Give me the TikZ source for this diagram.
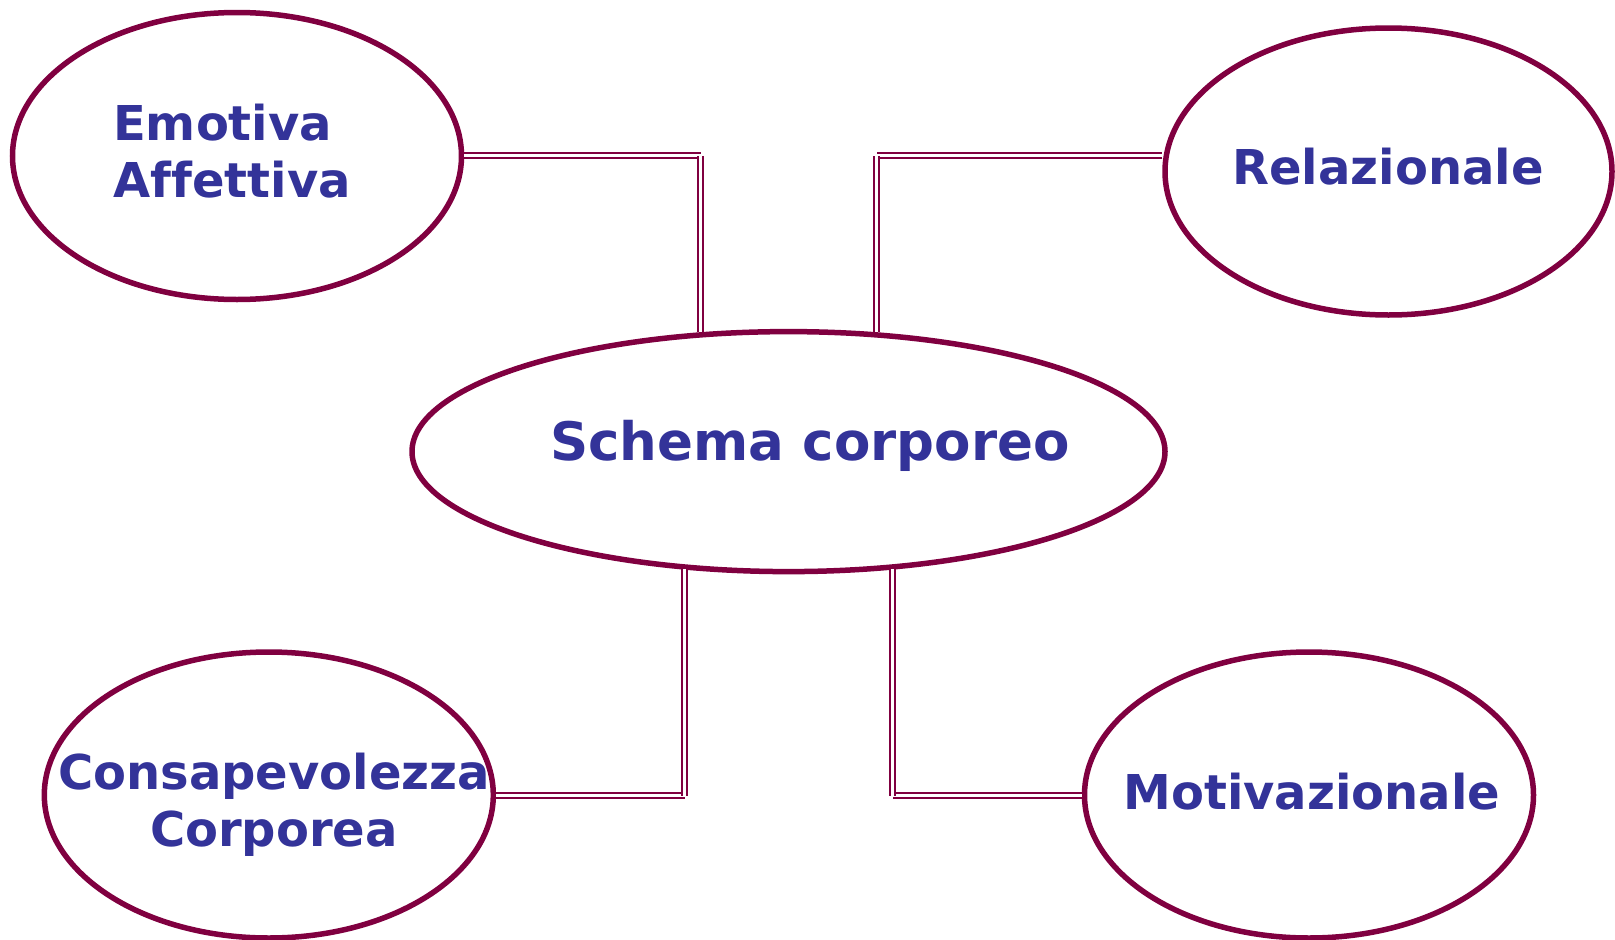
\documentclass[tikz,border=0pt]{standalone}
\usepackage{fontspec}
\setmainfont[Ligatures=NoCommon]{DejaVu Sans}
\usetikzlibrary{shapes.geometric}
\definecolor{maroonline}{HTML}{800040}
\definecolor{txtblue}{HTML}{333399}
\tikzset{
  oval/.style={ellipse, draw=maroonline, line width=5.5pt, inner sep=0pt},
  lbl/.style={text=txtblue, font=\bfseries\fontsize{48}{57}\selectfont, inner sep=0pt},
  dbl/.style={draw=maroonline, double=white, line width=2pt, double distance=2.8pt}
}
\begin{document}
\begin{tikzpicture}[x=1pt,y=-1pt]
\useasboundingbox (0,0) rectangle (1615,940);
\node[oval, minimum width=449pt, minimum height=287pt] (emo) at (237,156) {};
\node[oval, minimum width=447pt, minimum height=287pt] (rel) at (1388.5,171.5) {};
\node[oval, minimum width=753pt, minimum height=240pt] (sch) at (788.5,451.6) {};
\node[oval, minimum width=449pt, minimum height=286pt] (con) at (268.8,795) {};
\node[oval, minimum width=449pt, minimum height=286pt] (mot) at (1309,795) {};

\node[lbl, align=left, anchor=west] (emot) at (113,151) {Emotiva\\Affettiva};
\node[lbl] (relt) at (1388,167) {Relazionale};
\node[lbl, font=\bfseries\fontsize{53}{63}\selectfont] (scht) at (810,446) {Schema corporeo};
\node[lbl, align=center] (cont) at (274,805) {Consapevolezza\\Corporea};
\node[lbl] (mott) at (1311.7,792) {Motivazionale};

\coordinate (c1) at (700.5,155.8);
\coordinate (c2) at (876.5,155.8);
\coordinate (c3) at (684.8,795.5);
\coordinate (c4) at (892.5,795.5);

\draw[dbl] (emo.east |- c1) -- (c1);
\draw[dbl] (c1) -- (c1 |- sch.127);
\draw[dbl] (rel.west |- c2) -- (c2);
\draw[dbl] (c2) -- (c2 |- sch.53);
\draw[dbl] (con.east |- c3) -- (c3);
\draw[dbl] (c3) -- (c3 |- sch.228);
\draw[dbl] (mot.west |- c4) -- (c4);
\draw[dbl] (c4) -- (c4 |- sch.312);
\end{tikzpicture}
\end{document}
